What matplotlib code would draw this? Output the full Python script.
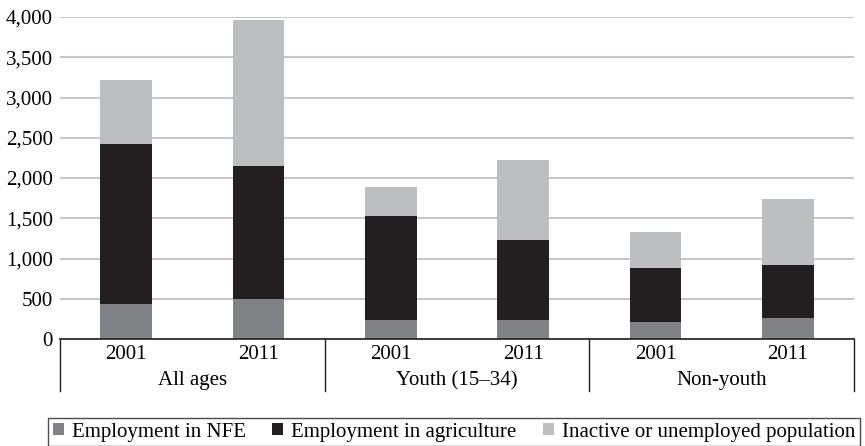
import matplotlib
matplotlib.use("Agg")
import matplotlib.pyplot as plt
import matplotlib.transforms as mtransforms
from matplotlib.patches import Patch
import numpy as np

groups = ["All ages", "Youth (15\u201334)", "Non-youth"]
years = ["2001", "2011", "2001", "2011", "2001", "2011"]
nfe = [438, 497, 232, 236, 211, 265]
agriculture = [1984, 1652, 1300, 990, 675, 654]
inactive = [795, 1814, 360, 994, 447, 824]
series_names = ["Employment in NFE", "Employment in agriculture", "Inactive or unemployed population"]
colors = ["#808285", "#231f20", "#bcbec0"]
yticks = [0, 500, 1000, 1500, 2000, 2500, 3000, 3500, 4000]

plt.rcParams['font.family'] = ['Liberation Serif', 'DejaVu Serif']
FS = 15

fig = plt.figure(figsize=(8.65, 4.46), dpi=100)
ax = fig.add_axes([60/865, 1-339/446, (854-60)/865, (339-17)/446])

x = np.arange(len(years))
w = 0.39
b1 = np.array(nfe)
b2 = b1 + np.array(agriculture)
ax.bar(x, nfe, w, color=colors[0], zorder=3)
ax.bar(x, agriculture, w, bottom=b1, color=colors[1], zorder=3)
ax.bar(x, inactive, w, bottom=b2, color=colors[2], zorder=3)

ax.set_xlim(-0.5, len(years) - 0.5)
ax.set_ylim(0, 4000)
ax.set_yticks(yticks)
ax.set_yticklabels([f"{v:,}" for v in yticks], fontsize=FS)
ax.yaxis.grid(True, color="#c8c8ca", linewidth=1.5, zorder=0)
ax.tick_params(axis='y', length=0, pad=5)
ax.tick_params(axis='x', length=0, pad=4.5)
ax.set_xticks(x)
ax.set_xticklabels(years, fontsize=FS)
for s in ["left", "right", "top"]:
    ax.spines[s].set_visible(False)
ax.spines["bottom"].set_color("#231f20")
ax.spines["bottom"].set_linewidth(1.2)
ax.spines["bottom"].set_zorder(4)

trans = mtransforms.blended_transform_factory(ax.transData, ax.transAxes)
ax_h = 339 - 17
line_bottom = -(391 - 339) / ax_h
for bx in [-0.5, 1.5, 3.5, 5.5]:
    ax.plot([bx, bx], [0, line_bottom], transform=trans, color="#231f20",
            linewidth=1.0, clip_on=False)
for i, g in enumerate(groups):
    ax.text(2*i + 0.5, -(381 - 339) / ax_h, g, transform=trans, ha="center",
            va="center", fontsize=FS)

handles = [Patch(facecolor=c, edgecolor='none') for c in colors]
leg = fig.legend(handles, series_names, ncol=3, loc="center",
                 bbox_to_anchor=((46+862)/2/865, 1-432/446),
                 fontsize=FS, frameon=True, fancybox=False,
                 handlelength=0.53, handleheight=0.53, handletextpad=0.4,
                 columnspacing=1.25, borderpad=0.2, borderaxespad=0)
leg.get_frame().set_edgecolor("#231f20")
leg.get_frame().set_linewidth(1.0)

fig.savefig("out.png", dpi=100)
